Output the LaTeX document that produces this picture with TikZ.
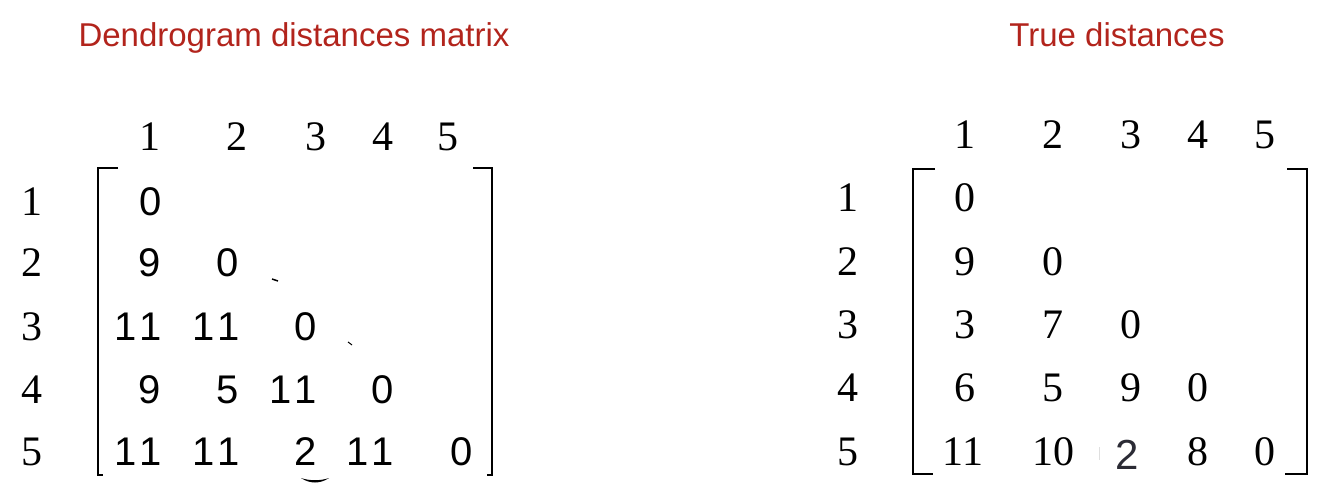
\documentclass[tikz,border=0pt]{standalone}
\usepackage{fontspec}
\setmainfont{Liberation Serif}
\newfontfamily\arialfont{Liberation Sans}
\usepackage{tikz}
\usetikzlibrary{positioning}
\definecolor{titlered}{RGB}{178,36,28}
\definecolor{darkdigit}{RGB}{43,43,53}
\newcommand{\elf}{1\kern3pt1}
\tikzstyle{title} = [font=\arialfont\fontsize{33}{40}\selectfont,
    text=titlered, anchor=base, inner sep=0pt]
\tikzstyle{idx} = [font=\fontsize{42}{48}\selectfont, inner sep=0pt]
\tikzstyle{dentry} = [font=\arialfont\fontsize{40}{46}\selectfont, inner sep=0pt]
\tikzstyle{tentry} = [font=\fontsize{42}{48}\selectfont, inner sep=0pt]
\tikzstyle{bracket} = [line width=2.6pt]

\begin{document}
\begin{tikzpicture}[x=1pt, y=-1pt]
    \useasboundingbox (0,0) rectangle (1342,494);
    % titles
    \node [title] (dtitle) at (294,47) {Dendrogram distances matrix};
    \node [title] (ttitle) at (1117,47) {True distances};
    % dendrogram matrix: indices
    \foreach \c/\x in {1/150,2/237,3/316,4/383,5/448}
        \node [idx] (dcol\c) at (\x,137) {\c};
    \foreach \r/\y in {1/202,2/263,3/327,4/390,5/452}
        \node [idx] (drow\r) at (32,\y) {\r};
    % dendrogram matrix: entries (row/column/x/value), each row at the height of its index
    \foreach \r/\c/\x/\v in {1/1/151/0,
            2/1/150/9, 2/2/228/0,
            3/1/138/\elf, 3/2/216/\elf, 3/3/306/0,
            4/1/150/9, 4/2/228/5, 4/3/293/\elf, 4/4/383/0,
            5/1/138/\elf, 5/2/216/\elf, 5/3/306/2, 5/4/370/\elf, 5/5/462/0}
        \node [dentry] (d\r\c) at (\x,0 |- drow\r) {\v};
    \draw [bracket] (118,168) -- (98,168) -- (98,475) -- (103,475);
    \draw [bracket] (473,168) -- (492,168) -- (492,475) -- (487,475);
    % specks of the scan
    \draw [line width=1.5pt] (272,279) -- (278,281);
    \draw [line width=1pt] (348,342) -- (352,345);
    \fill (301,478) .. controls (310,484) and (320,484) .. (329,478)
        .. controls (320,481) and (310,481) .. (301,478);
    % true distances: indices
    \foreach \c/\x in {1/965,2/1053,3/1131,4/1198,5/1265}
        \node [idx] (tcol\c) at (\x,135) {\c};
    \foreach \r/\y in {1/198,2/262,3/325,4/388,5/452}
        \node [idx] (trow\r) at (848,\y) {\r};
    % true distances: entries
    \foreach \r/\c/\x/\v in {1/1/965/0,
            2/1/965/9, 2/2/1053/0,
            3/1/965/3, 3/2/1053/7, 3/3/1131/0,
            4/1/965/6, 4/2/1053/5, 4/3/1131/9, 4/4/1198/0,
            5/1/963/11, 5/2/1053/10, 5/4/1198/8, 5/5/1265/0}
        \node [tentry] (t\r\c) at (\x,0 |- trow\r) {\v};
    \node [tentry, font=\arialfont\fontsize{42}{48}\selectfont, text=darkdigit]
        (t53) at (1127,455) {2};
    \draw [gray!25, line width=1pt] (1099,447) -- (1099,460);
    \draw [bracket, line width=2pt] (935,169) -- (913,169) -- (913,474) -- (933,474);
    \draw [bracket, line width=2pt] (1287,169) -- (1307,169) -- (1307,474) -- (1285,474);
\end{tikzpicture}
\end{document}
